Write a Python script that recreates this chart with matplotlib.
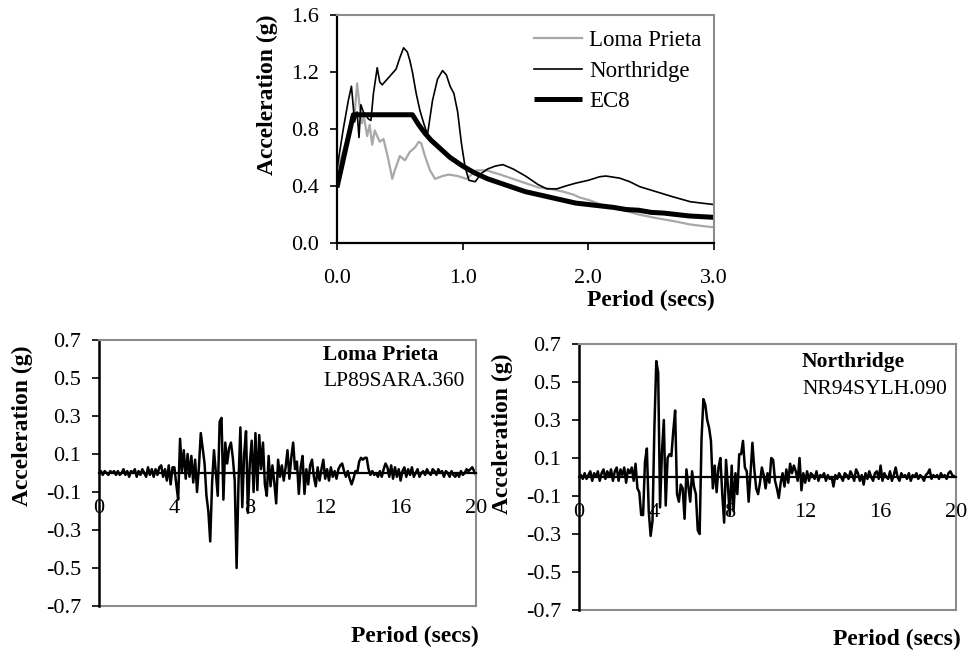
import matplotlib
matplotlib.use("Agg")
import matplotlib.pyplot as plt
import numpy as np

plt.rcParams["font.family"] = ["Liberation Serif", "DejaVu Serif"]

# ---------------- response spectra (top panel) ----------------
T_lp = [0.00, 0.05, 0.10, 0.14, 0.16, 0.18, 0.20, 0.21, 0.24, 0.26, 0.28, 0.30,
        0.34, 0.37, 0.41, 0.44, 0.46, 0.50, 0.54, 0.58, 0.62, 0.65, 0.67, 0.70,
        0.74, 0.78, 0.84, 0.89, 0.96, 1.03, 1.11, 1.19, 1.30, 1.40, 1.50, 1.60,
        1.70, 1.80, 1.88, 1.93, 2.01, 2.10, 2.20, 2.28, 2.40, 2.54, 2.70, 2.81,
        2.90, 3.00]
Sa_lp = [0.50, 0.65, 0.80, 0.90, 1.12, 0.96, 0.84, 0.91, 0.75, 0.83, 0.69, 0.79,
         0.71, 0.73, 0.58, 0.45, 0.51, 0.61, 0.58, 0.64, 0.67, 0.71, 0.70, 0.61,
         0.51, 0.45, 0.47, 0.48, 0.47, 0.45, 0.51, 0.51, 0.48, 0.45, 0.42, 0.39,
         0.38, 0.36, 0.34, 0.32, 0.30, 0.27, 0.25, 0.23, 0.20, 0.175, 0.15, 0.13,
         0.12, 0.11]

T_nr = [0.00, 0.05, 0.09, 0.115, 0.14, 0.16, 0.175, 0.19, 0.21, 0.25, 0.27, 0.29,
        0.32, 0.34, 0.36, 0.40, 0.44, 0.47, 0.50, 0.53, 0.56, 0.58, 0.60, 0.63,
        0.66, 0.69, 0.72, 0.74, 0.76, 0.80, 0.84, 0.87, 0.90, 0.93, 0.96, 0.99,
        1.02, 1.05, 1.10, 1.15, 1.20, 1.26, 1.32, 1.40, 1.50, 1.60, 1.67, 1.75,
        1.82, 1.90, 2.00, 2.09, 2.14, 2.25, 2.33, 2.41, 2.54, 2.67, 2.81, 2.90,
        3.00]
Sa_nr = [0.52, 0.80, 1.00, 1.10, 0.85, 0.92, 0.74, 0.97, 0.92, 0.87, 0.86, 1.05,
         1.23, 1.13, 1.11, 1.15, 1.19, 1.22, 1.30, 1.37, 1.34, 1.28, 1.20, 1.05,
         0.93, 0.84, 0.76, 0.88, 1.00, 1.15, 1.21, 1.18, 1.10, 1.05, 0.92, 0.70,
         0.53, 0.44, 0.43, 0.49, 0.52, 0.54, 0.55, 0.52, 0.47, 0.41, 0.38, 0.38,
         0.40, 0.42, 0.44, 0.465, 0.47, 0.455, 0.43, 0.395, 0.36, 0.325, 0.29,
         0.28, 0.27]

T_ec8 = [0.00, 0.13, 0.60, 0.65, 0.70, 0.75, 0.80, 0.85, 0.90, 0.95, 1.00, 1.10,
         1.20, 1.30, 1.40, 1.50, 1.60, 1.70, 1.80, 1.90, 2.00, 2.10, 2.20, 2.30,
         2.40, 2.50, 2.60, 2.70, 2.80, 2.90, 3.00]
Sa_ec8 = [0.39, 0.90, 0.90, 0.83, 0.77, 0.72, 0.68, 0.64, 0.60, 0.57, 0.54, 0.49,
          0.45, 0.42, 0.39, 0.36, 0.34, 0.32, 0.30, 0.28, 0.27, 0.26, 0.25, 0.235,
          0.23, 0.215, 0.21, 0.20, 0.19, 0.185, 0.18]

# ---------------- acceleration time histories (bottom panels) ----------------
dt = 0.1
acc_lp = [
    0.00, 0.01, -0.01, 0.01, 0.00, -0.01, 0.01, 0.00, 0.01, -0.01,
    0.01, -0.01, 0.00, 0.02, -0.01, 0.01, -0.02, 0.01, 0.00, 0.02,
    -0.02, 0.01, -0.01, 0.02, 0.00, -0.02, 0.03, -0.01, 0.02, -0.02,
    0.02, -0.01, 0.03, 0.04, -0.02, 0.02, -0.04, 0.04, -0.06, 0.03,
    0.03, -0.06, -0.14, 0.18, 0.01, 0.12, -0.03, 0.10, -0.02, 0.09,
    -0.05, 0.07, -0.10, 0.03, 0.21, 0.13, 0.05, -0.12, -0.20, -0.36,
    -0.05, 0.12, 0.00, -0.12, 0.27, 0.29, -0.14, 0.16, 0.05, 0.13,
    0.16, 0.08, -0.04, -0.50, -0.05, 0.24, -0.18, 0.10, 0.22, -0.21,
    0.05, 0.17, -0.10, 0.21, -0.09, 0.20, 0.02, 0.16, -0.06, -0.12,
    0.09, -0.07, 0.04, -0.05, -0.16, 0.07, -0.02, 0.04, -0.04, 0.03,
    0.12, -0.03, 0.08, 0.16, 0.02, 0.06, -0.11, 0.03, 0.09, -0.11,
    0.02, -0.06, 0.04, 0.07, -0.02, -0.07, 0.03, -0.04, 0.02, 0.07,
    -0.03, 0.02, -0.04, 0.03, -0.02, 0.01, -0.03, 0.02, 0.04, 0.05,
    0.01, -0.02, 0.01, -0.03, -0.06, -0.03, 0.01, 0.00, 0.06, 0.08,
    0.07, 0.08, 0.08, 0.02, -0.01, 0.01, -0.01, 0.00, -0.02, 0.01,
    -0.02, 0.02, 0.05, 0.03, -0.02, 0.04, -0.03, 0.03, -0.02, 0.02,
    -0.04, 0.01, 0.03, -0.02, 0.02, -0.01, 0.03, -0.02, 0.00, 0.02,
    -0.02, 0.00, 0.01, -0.01, 0.02, 0.00, -0.01, 0.02, 0.01, -0.01,
    0.02, 0.00, 0.01, -0.02, 0.01, 0.00, -0.02, 0.01, -0.01, -0.02,
    0.00, -0.02, 0.01, -0.01, 0.00, 0.02, 0.01, 0.02, 0.03, 0.01,
    -0.01]

acc_nr = [
    0.00, 0.01, -0.01, 0.02, -0.01, 0.01, 0.03, -0.02, 0.02, 0.00,
    0.03, -0.02, 0.02, 0.04, -0.01, 0.03, 0.00, 0.04, -0.02, 0.03,
    0.05, -0.02, 0.04, 0.01, 0.05, -0.03, 0.04, 0.02, 0.05, -0.02,
    0.07, -0.06, -0.08, -0.20, -0.20, 0.08, 0.15, -0.18, -0.31, -0.23,
    0.26, 0.61, 0.55, -0.16, 0.13, 0.30, -0.15, 0.10, 0.12, 0.11,
    0.24, 0.35, -0.09, -0.13, -0.04, -0.06, -0.22, 0.04, -0.05, -0.13,
    0.03, -0.05, -0.09, -0.28, -0.30, 0.20, 0.41, 0.38, 0.30, 0.26,
    0.19, -0.06, 0.06, -0.08, 0.05, 0.10, -0.09, -0.24, 0.09, -0.05,
    -0.20, 0.06, -0.18, 0.02, -0.09, 0.12, 0.12, 0.19, 0.05, 0.03,
    -0.13, 0.02, 0.18, 0.04, -0.06, -0.09, -0.03, 0.05, 0.01, -0.06,
    0.02, -0.03, 0.10, 0.09, -0.02, -0.06, -0.11, -0.03, 0.02, -0.05,
    0.04, -0.03, 0.07, 0.02, 0.06, 0.03, -0.02, 0.10, -0.07, 0.02,
    -0.03, 0.03, -0.02, 0.02, 0.01, -0.01, 0.03, -0.02, 0.01, 0.00,
    0.02, -0.02, 0.01, -0.01, 0.00, -0.05, 0.01, -0.01, 0.02, 0.00,
    -0.02, 0.02, 0.01, -0.01, 0.03, 0.01, -0.02, 0.04, 0.02, -0.02,
    0.01, -0.04, 0.02, -0.01, 0.03, 0.00, -0.02, 0.02, 0.03, -0.01,
    0.06, -0.02, 0.02, 0.00, -0.01, 0.03, -0.02, 0.01, 0.05, 0.00,
    -0.02, 0.02, 0.00, 0.01, -0.01, 0.02, -0.02, 0.01, 0.00, 0.02,
    -0.01, 0.01, 0.00, -0.02, 0.01, 0.02, 0.04, -0.01, 0.01, 0.00,
    0.01, -0.01, 0.02, 0.00, 0.01, -0.01, 0.02, 0.03, 0.01, 0.00,
    0.01]

spec_xticks = [0.0, 1.0, 2.0, 3.0]
spec_yticks = [0.0, 0.4, 0.8, 1.2, 1.6]
th_xticks = [0, 4, 8, 12, 16, 20]
th_yticks = [-0.7, -0.5, -0.3, -0.1, 0.1, 0.3, 0.5, 0.7]

FRAME_GREY = "#8c8c8c"
TICK_FS = 16
TITLE_FS = 17
W, H = 968, 653


def box(left, top, right, bottom):
    return [left / W, 1 - bottom / H, (right - left) / W, (bottom - top) / H]


fig = plt.figure(figsize=(W / 100, H / 100), dpi=100)

# ---------- top: spectra ----------
ax = fig.add_axes(box(337, 15, 714, 243))
ax.plot(T_lp, Sa_lp, color="#a8a8a8", lw=1.6, label="Loma Prieta")
ax.plot(T_nr, Sa_nr, color="black", lw=1.2, label="Northridge")
ax.plot(T_ec8, Sa_ec8, color="black", lw=3.6, label="EC8", solid_capstyle="butt")
ax.set_xlim(0, 3)
ax.set_ylim(0, 1.6)
ax.set_xticks(spec_xticks)
ax.set_xticklabels([f"{v:.1f}" for v in spec_xticks])
ax.set_yticks(spec_yticks)
ax.set_yticklabels([f"{v:.1f}" for v in spec_yticks])
ax.tick_params(axis="both", direction="out", length=5, width=1.2,
               labelsize=TICK_FS, color="black")
ax.tick_params(axis="x", pad=14)
ax.tick_params(axis="y", pad=8)
for side in ("top", "right"):
    ax.spines[side].set_color(FRAME_GREY)
    ax.spines[side].set_linewidth(1.5)
for side in ("left", "bottom"):
    ax.spines[side].set_color("black")
    ax.spines[side].set_linewidth(1.6)
leg = ax.legend(loc="upper left", bbox_to_anchor=(534 / W, 1 - 30 / H),
                bbox_transform=fig.transFigure, frameon=False,
                fontsize=16.5, handlelength=2.1, handletextpad=0.3,
                labelspacing=0.42, borderpad=0, borderaxespad=0)
fig.text(267 / W, 1 - 95 / H, "Acceleration (g)", rotation=90, ha="center",
         va="center", fontsize=TITLE_FS, fontweight="bold")
fig.text(651 / W, 1 - 300 / H, "Period (secs)", ha="center", va="center",
         fontsize=TITLE_FS, fontweight="bold")


def history(rect, acc, name, code, ylab_xy, xlab_xy, note_xy):
    a = fig.add_axes(box(*rect))
    t = np.arange(len(acc)) * dt
    a.plot(t, acc, color="black", lw=1.8)
    a.set_xlim(0, 20)
    a.set_ylim(-0.7, 0.7)
    a.set_xticks(th_xticks)
    a.set_xticklabels([str(v) for v in th_xticks])
    a.set_yticks(th_yticks)
    a.set_yticklabels([f"{v:.1f}" for v in th_yticks])
    a.spines["bottom"].set_position(("data", 0))
    a.spines["bottom"].set_color("black")
    a.spines["bottom"].set_linewidth(1.6)
    a.spines["left"].set_color("black")
    a.spines["left"].set_linewidth(1.8)
    for side in ("top", "right"):
        a.spines[side].set_color(FRAME_GREY)
        a.spines[side].set_linewidth(1.5)
    a.axhline(-0.7, color=FRAME_GREY, lw=1.5, clip_on=False, zorder=0)
    a.tick_params(axis="y", direction="out", length=5, width=1.2,
                  labelsize=TICK_FS, pad=8)
    a.tick_params(axis="x", length=0, labelsize=TICK_FS, pad=19)
    fig.text(ylab_xy[0] / W, 1 - ylab_xy[1] / H, "Acceleration (g)",
             rotation=90, ha="center", va="center", fontsize=TITLE_FS,
             fontweight="bold")
    fig.text(xlab_xy[0] / W, 1 - xlab_xy[1] / H, "Period (secs)",
             ha="center", va="center", fontsize=TITLE_FS, fontweight="bold")
    fig.text(note_xy[0] / W, 1 - note_xy[1] / H, name, ha="left",
             va="center", fontsize=15.5, fontweight="bold")
    fig.text(note_xy[0] / W, 1 - (note_xy[1] + 27) / H, code, ha="left",
             va="center", fontsize=15.5)
    return a


history((99, 340, 476, 606), acc_lp, "Loma Prieta", "LP89SARA.360",
        (22, 426), (415, 636), (323, 355))
history((579, 344, 956, 610), acc_nr, "Northridge", "NR94SYLH.090",
        (502, 434), (897, 639), (802, 362))

fig.savefig("out.png", dpi=100)
